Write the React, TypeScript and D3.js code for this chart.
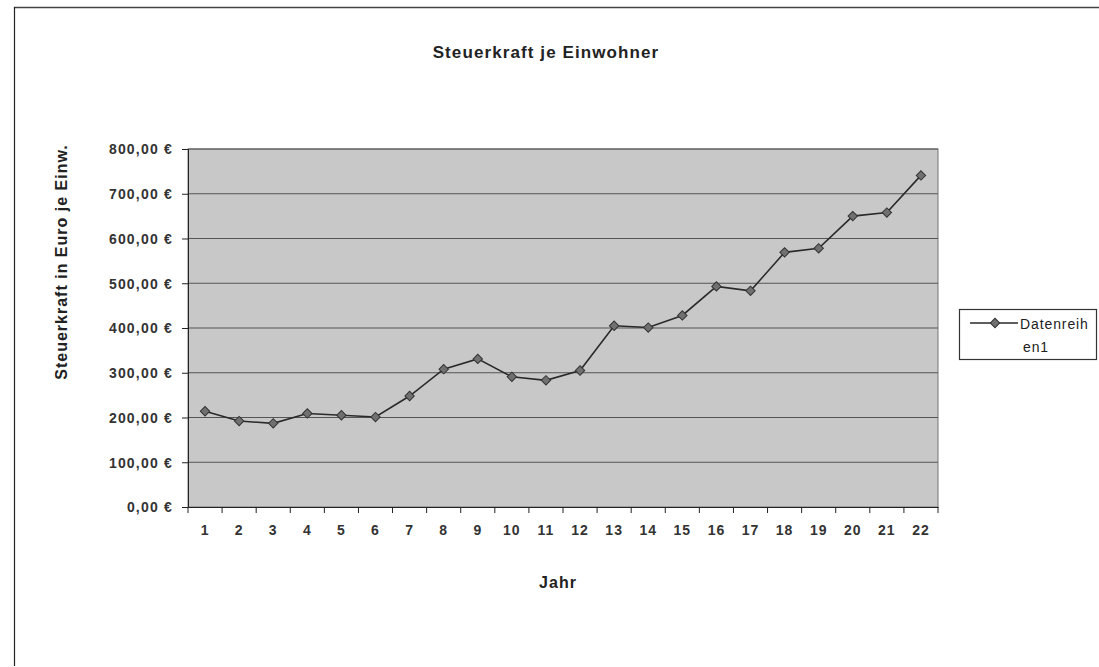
import React, { useEffect, useRef } from "react";
import { select, scaleBand, scaleLinear, axisLeft, axisBottom, line, symbol, symbolSquare } from "d3";

const years = ["1", "2", "3", "4", "5", "6", "7", "8", "9", "10", "11", "12", "13", "14", "15", "16", "17", "18", "19", "20", "21", "22"];
const steuerkraft = [214, 192, 187, 209, 205, 201, 248, 308, 331, 291, 283, 305, 405, 401, 428, 493, 483, 569, 578, 650, 658, 741];
const yTicks = [0, 100, 200, 300, 400, 500, 600, 700, 800];

const FONT = "'Liberation Sans', Arial, sans-serif";

const App = () => {
  const svgRef = useRef<SVGSVGElement>(null);

  useEffect(() => {
    const svg = select(svgRef.current);
    svg.selectAll("*").remove();

    const left = 188, right = 938, top = 149, bottom = 507;

    const xScale = scaleBand().domain(years).range([left, right]);
    const yScale = scaleLinear().domain([0, 800]).range([bottom, top]);

    // frame of the scanned page
    svg.append("line").attr("x1", 14).attr("x2", 1099).attr("y1", 7.5).attr("y2", 7.5)
      .attr("stroke", "#444").attr("stroke-width", 1.5);
    svg.append("line").attr("x1", 14.5).attr("x2", 14.5).attr("y1", 7).attr("y2", 666)
      .attr("stroke", "#222").attr("stroke-width", 1.2);

    // plot area
    svg.append("rect").attr("x", left).attr("y", top)
      .attr("width", right - left).attr("height", bottom - top)
      .attr("fill", "#c8c8c8").attr("stroke", "#777").attr("stroke-width", 1);

    // gridlines
    svg.append("g").selectAll("line").data(yTicks.slice(1)).join("line")
      .attr("x1", left).attr("x2", right)
      .attr("y1", (d) => yScale(d)).attr("y2", (d) => yScale(d))
      .attr("stroke", "#555").attr("stroke-width", 1);

    // axes
    const yAxis = axisLeft(yScale).tickValues(yTicks).tickSize(6).tickPadding(9)
      .tickFormat((d) => `${(+d).toFixed(2).replace(".", ",")} €`);
    const gy = svg.append("g").attr("transform", `translate(${left},0)`).call(yAxis);
    gy.select(".domain").attr("stroke", "#222");
    gy.selectAll(".tick line").attr("stroke", "#222");
    gy.selectAll("text").attr("font-family", FONT).attr("font-size", 14).attr("font-weight", "bold")
      .attr("letter-spacing", 1.2).attr("fill", "#333").attr("dy", "0.35em");

    const xAxis = axisBottom(xScale).tickSize(0).tickPadding(18);
    const gx = svg.append("g").attr("transform", `translate(0,${bottom})`).call(xAxis);
    gx.select(".domain").attr("stroke", "#222");
    gx.selectAll("text").attr("font-family", FONT).attr("font-size", 14).attr("font-weight", "bold")
      .attr("letter-spacing", 1).attr("fill", "#333");

    // category tick marks between categories
    const step = xScale.step();
    svg.append("g").selectAll("line").data([...years, "end"]).join("line")
      .attr("x1", (_, i) => left + i * step).attr("x2", (_, i) => left + i * step)
      .attr("y1", bottom).attr("y2", bottom + 6)
      .attr("stroke", "#222");

    // series
    const cx = (i: number) => (xScale(years[i]) ?? 0) + xScale.bandwidth() / 2;
    const lineGen = line<number>().x((_, i) => cx(i)).y((d) => yScale(d));
    svg.append("path").datum(steuerkraft).attr("d", lineGen)
      .attr("fill", "none").attr("stroke", "#2a2a2a").attr("stroke-width", 1.6);

    const marker = symbol().type(symbolSquare).size(44);
    svg.append("g").selectAll("path").data(steuerkraft).join("path")
      .attr("d", marker)
      .attr("transform", (d, i) => `translate(${cx(i)},${yScale(d)}) rotate(45)`)
      .attr("fill", "#707070").attr("stroke", "#333").attr("stroke-width", 1);

    // titles
    svg.append("text").attr("x", 546).attr("y", 58).attr("text-anchor", "middle")
      .attr("font-family", FONT).attr("font-size", 17).attr("font-weight", "bold")
      .attr("letter-spacing", 1.1).attr("fill", "#222").text("Steuerkraft je Einwohner");

    svg.append("text").attr("transform", "translate(67,262) rotate(-90)")
      .attr("text-anchor", "middle").attr("font-family", FONT).attr("font-size", 16)
      .attr("font-weight", "bold").attr("letter-spacing", 1).attr("fill", "#222")
      .text("Steuerkraft in Euro je Einw.");

    svg.append("text").attr("x", 558).attr("y", 588).attr("text-anchor", "middle")
      .attr("font-family", FONT).attr("font-size", 16).attr("font-weight", "bold")
      .attr("letter-spacing", 1).attr("fill", "#222").text("Jahr");

    // legend
    const lg = svg.append("g");
    lg.append("rect").attr("x", 959.5).attr("y", 309.5).attr("width", 137).attr("height", 50)
      .attr("fill", "#fff").attr("stroke", "#333").attr("stroke-width", 1.2);
    lg.append("line").attr("x1", 970).attr("x2", 1018).attr("y1", 323).attr("y2", 323)
      .attr("stroke", "#2a2a2a").attr("stroke-width", 1.6);
    lg.append("path").attr("d", marker).attr("transform", "translate(995,323) rotate(45)")
      .attr("fill", "#707070").attr("stroke", "#333");
    lg.append("text").attr("x", 1020).attr("y", 329).attr("font-family", FONT)
      .attr("font-size", 14).attr("letter-spacing", 0.9).attr("fill", "#222").text("Datenreih");
    lg.append("text").attr("x", 1023).attr("y", 352).attr("font-family", FONT)
      .attr("font-size", 14).attr("letter-spacing", 0.9).attr("fill", "#222").text("en1");
  }, []);

  return (
    <svg
      ref={svgRef}
      width={1099}
      height={667}
      style={{ position: "absolute", left: 0, top: 0, background: "#fff" }}
    />
  );
};

export default App;
